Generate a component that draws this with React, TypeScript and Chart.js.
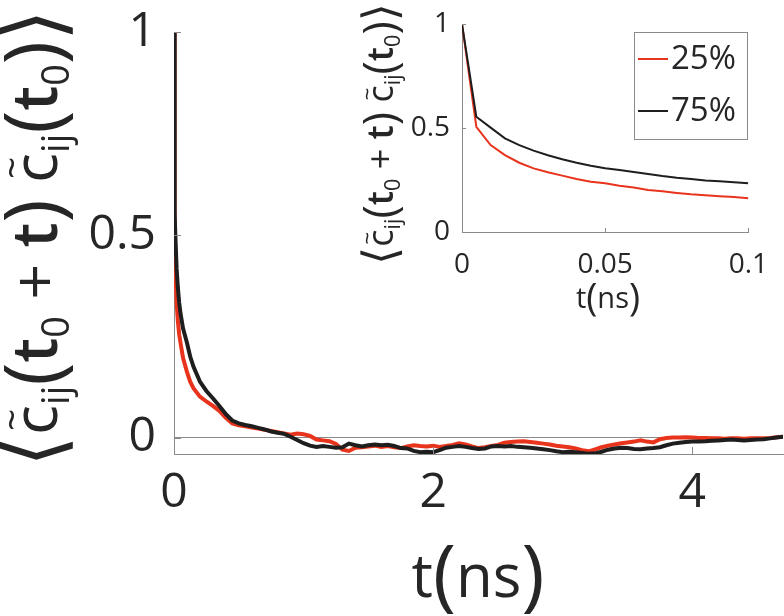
import React, { useEffect, useRef } from "react";
import { Chart, registerables } from "chart.js";
Chart.register(...registerables);

const FONT = '"Open Sans", "DejaVu Sans", sans-serif';
const RED = "#e8341c";
const BLACK = "#1e1e1e";
const AXIS = "#8a8a8a";
const TEXT = "#262626";

const seriesLabels = ["25%", "75%"];

const mainT = [0, 0.005, 0.01, 0.02, 0.03, 0.04, 0.05, 0.07, 0.1, 0.125, 0.15, 0.2, 0.25, 0.3, 0.35, 0.4, 0.45, 0.5, 0.55, 0.6, 0.65, 0.7, 0.75, 0.8, 0.85, 0.9, 0.95, 1, 1.05,
  1.1, 1.15, 1.2, 1.25, 1.3, 1.35, 1.4, 1.45, 1.5, 1.55, 1.6, 1.65, 1.7, 1.75, 1.8, 1.85, 1.9, 1.95, 2, 2.05,
  2.1, 2.15, 2.2, 2.25, 2.3, 2.35, 2.4, 2.45, 2.5, 2.55, 2.6, 2.65, 2.7, 2.75, 2.8, 2.85, 2.9, 2.95, 3, 3.05,
  3.1, 3.15, 3.2, 3.25, 3.3, 3.35, 3.4, 3.45, 3.5, 3.55, 3.6, 3.65, 3.7, 3.75, 3.8, 3.85, 3.9, 3.95, 4, 4.05,
  4.1, 4.15, 4.2, 4.25, 4.3, 4.35, 4.4, 4.45, 4.5, 4.55, 4.6, 4.65, 4.7];

const mainRed = [1, 0.506, 0.418, 0.333, 0.287, 0.255, 0.234, 0.196, 0.162, 0.138, 0.122, 0.101, 0.089, 0.078, 0.066, 0.049, 0.035, 0.03, 0.028, 0.025, 0.022, 0.019, 0.016, 0.013, 0.01, 0.007, 0.01, 0.008, 0.004,
  -0.005, -0.007, -0.009, -0.016, -0.03, -0.033, -0.025, -0.024, -0.022, -0.02,
  -0.023, -0.021, -0.024, -0.026, -0.022, -0.019, -0.021, -0.022, -0.02, -0.023,
  -0.021, -0.018, -0.014, -0.017, -0.022, -0.026, -0.024, -0.021, -0.018, -0.013,
  -0.011, -0.01, -0.009, -0.011, -0.013, -0.015, -0.017, -0.02, -0.022, -0.024,
  -0.027, -0.031, -0.034, -0.029, -0.024, -0.02, -0.017, -0.014, -0.012, -0.01,
  -0.007, -0.01, -0.012, -0.004, -0.001, 0, 0, 0.001, 0, -0.001,
  -0.001, -0.002, -0.002, -0.003, -0.002, -0.002, -0.003, -0.002, -0.002, -0.002,
  -0.001, 0.001, 0.002];

const mainBlack = [1, 0.554, 0.502, 0.418, 0.369, 0.333, 0.307, 0.269, 0.234, 0.2, 0.175, 0.138, 0.115, 0.097, 0.078, 0.058, 0.042, 0.035, 0.031, 0.028, 0.024, 0.02, 0.015, 0.012, 0.009, 0.002, -0.006, -0.014, -0.02,
  -0.023, -0.021, -0.023, -0.025, -0.024, -0.015, -0.019, -0.022, -0.019, -0.017,
  -0.019, -0.018, -0.021, -0.026, -0.027, -0.033, -0.036, -0.035, -0.036, -0.031,
  -0.025, -0.023, -0.021, -0.023, -0.026, -0.028, -0.027, -0.022, -0.021, -0.022,
  -0.021, -0.023, -0.024, -0.025, -0.027, -0.029, -0.031, -0.034, -0.036, -0.035,
  -0.036, -0.038, -0.04, -0.039, -0.035, -0.03, -0.027, -0.025, -0.026, -0.028,
  -0.029, -0.027, -0.026, -0.024, -0.019, -0.015, -0.013, -0.011, -0.01, -0.0095,
  -0.009, -0.008, -0.007, -0.006, -0.005, -0.006, -0.007, -0.006, -0.005, -0.004,
  -0.002, 0, 0.002];

const insetT = [0, 0.005, 0.01, 0.015, 0.02, 0.025, 0.03, 0.035, 0.04, 0.045, 0.05, 0.055, 0.06, 0.065, 0.07, 0.075, 0.08, 0.085, 0.09, 0.095, 0.1];
const insetRed = [1, 0.506, 0.418, 0.37, 0.333, 0.306, 0.287, 0.271, 0.255, 0.242, 0.234, 0.222, 0.214, 0.202, 0.196, 0.188, 0.181, 0.177, 0.172, 0.168, 0.162];
const insetBlack = [1, 0.554, 0.502, 0.45, 0.418, 0.391, 0.369, 0.35, 0.333, 0.319, 0.307, 0.298, 0.288, 0.279, 0.269, 0.261, 0.255, 0.248, 0.244, 0.239, 0.234];

const mainXTicks = [0, 2, 4];
const mainYTicks = [0, 0.5, 1];
const insetXTicks = [0, 0.05, 0.1];
const insetYTicks = [0, 0.5, 1];

type Seg = { s: string; sub?: boolean; tilde?: boolean; bold?: boolean; k?: number };

function drawMath(ctx: CanvasRenderingContext2D, segs: Seg[], cx: number, cy: number, size: number, rotate: boolean, target?: number) {
  const fontFor = (g: Seg, sz: number) => `${g.bold ? "600 " : ""}${(g.sub ? 0.6 : g.k || 1) * sz}px ${FONT}`;
  const measure = (sz: number) => segs.map((g) => { ctx.font = fontFor(g, sz); return ctx.measureText(g.s).width; });
  let widths = measure(size);
  let total = widths.reduce((a, b) => a + b, 0);
  if (target) {
    size = size * target / total;
    widths = measure(size);
    total = widths.reduce((a, b) => a + b, 0);
  }
  ctx.save();
  ctx.translate(cx, cy);
  if (rotate) ctx.rotate(-Math.PI / 2);
  ctx.fillStyle = TEXT;
  ctx.textAlign = "left";
  ctx.textBaseline = "alphabetic";
  const base = size * 0.36;
  let x = -total / 2;
  segs.forEach((g, i) => {
    ctx.font = fontFor(g, size);
    const y = g.sub ? base + size * 0.2 : base + ((g.k || 1) - 1) * size * 0.3;
    ctx.fillText(g.s, x, y);
    if (g.tilde) {
      ctx.font = `${size * 0.62}px ${FONT}`;
      ctx.textAlign = "center";
      ctx.fillText("~", x + widths[i] / 2, base - size * 0.5);
      ctx.textAlign = "left";
    }
    x += widths[i];
  });
  ctx.restore();
}

const yTitleSegs: Seg[] = [
  { s: "⟨", k: 1.3 }, { s: "c", tilde: true }, { s: "ij", sub: true }, { s: "(", k: 1.25 }, { s: "t", bold: true }, { s: "0", sub: true },
  { s: " + " }, { s: "t", bold: true }, { s: ")", k: 1.25 }, { s: " " }, { s: "c", tilde: true }, { s: "ij", sub: true }, { s: "(", k: 1.25 },
  { s: "t", bold: true }, { s: "0", sub: true }, { s: ")", k: 1.25 }, { s: "⟩", k: 1.3 },
];
const xTitleSegs: Seg[] = [{ s: "t" }, { s: "(", k: 1.3 }, { s: "ns" }, { s: ")", k: 1.3 }];

function inwardTicks(len: number) {
  return {
    id: "inwardTicks" + len,
    afterDatasetsDraw(chart: any) {
      const { ctx, chartArea, scales } = chart;
      ctx.save();
      ctx.strokeStyle = AXIS;
      ctx.lineWidth = 1;
      scales.x.ticks.forEach((t: any) => {
        const px = Math.round(scales.x.getPixelForValue(t.value)) + 0.5;
        ctx.beginPath(); ctx.moveTo(px, chartArea.bottom); ctx.lineTo(px, chartArea.bottom - len); ctx.stroke();
      });
      scales.y.ticks.forEach((t: any) => {
        const py = Math.round(scales.y.getPixelForValue(t.value)) + 0.5;
        ctx.beginPath(); ctx.moveTo(chartArea.left, py); ctx.lineTo(chartArea.left + len, py); ctx.stroke();
      });
      ctx.restore();
    },
  };
}

const mainTitles = {
  id: "mainTitles",
  afterDraw(chart: any) {
    const ctx = chart.ctx;
    drawMath(ctx, yTitleSegs, 34, 238, 50, true, 458);
    drawMath(ctx, xTitleSegs, 478, 575, 60, false);
  },
};

const insetDecor = {
  id: "insetDecor",
  afterDraw(chart: any) {
    const ctx = chart.ctx;
    drawMath(ctx, yTitleSegs, 40, 134, 30, true, 262);
    drawMath(ctx, xTitleSegs, 268, 298, 29, false);
    const bx = 294, by = 32, bw = 113, bh = 107;
    ctx.save();
    ctx.fillStyle = "#ffffff";
    ctx.fillRect(bx, by, bw, bh);
    ctx.strokeStyle = AXIS;
    ctx.lineWidth = 1;
    ctx.strokeRect(bx + 0.5, by + 0.5, bw, bh);
    chart.data.datasets.forEach((ds: any, i: number) => {
      const y = by + 27 + i * 52;
      ctx.strokeStyle = ds.borderColor;
      ctx.lineWidth = 2;
      ctx.beginPath(); ctx.moveTo(bx + 4, y); ctx.lineTo(bx + 34, y); ctx.stroke();
      ctx.fillStyle = TEXT;
      ctx.font = `33px ${FONT}`;
      ctx.textBaseline = "middle";
      ctx.textAlign = "left";
      ctx.fillText(ds.label, bx + 37, y + 1);
    });
    ctx.restore();
  },
};

function axisCfg(opts: any) {
  return {
    type: "linear",
    min: opts.min,
    max: opts.max,
    afterBuildTicks: (s: any) => { s.ticks = opts.ticks.map((v: number) => ({ value: v })); },
    afterFit: opts.afterFit,
    ticks: {
      font: { family: FONT, size: opts.fontSize, lineHeight: opts.lineHeight || 1.2 },
      color: TEXT,
      padding: opts.padding,
      autoSkip: false,
      maxRotation: 0,
      callback: (v: number) => String(v),
    },
    grid: {
      drawTicks: false,
      color: opts.gridColor || "rgba(0,0,0,0)",
      lineWidth: 1,
    },
    border: { display: true, color: AXIS, width: 1 },
  };
}

export default function App() {
  const mainRef = useRef<HTMLCanvasElement>(null);
  const insetRef = useRef<HTMLCanvasElement>(null);

  useEffect(() => {
    document.body.style.margin = "0";
    const main = new Chart(mainRef.current as HTMLCanvasElement, {
      type: "line",
      data: {
        datasets: [
          { label: seriesLabels[0], data: mainT.map((t, i) => ({ x: t, y: mainRed[i] })), borderColor: RED, borderWidth: 4, pointRadius: 0, tension: 0, order: 1 },
          { label: seriesLabels[1], data: mainT.map((t, i) => ({ x: t, y: mainBlack[i] })), borderColor: BLACK, borderWidth: 4, pointRadius: 0, tension: 0, order: 0 },
        ],
      },
      options: {
        animation: false,
        responsive: false,
        devicePixelRatio: 1,
        layout: { padding: { top: 18, right: 1, left: 0, bottom: 0 } },
        plugins: { legend: { display: false }, tooltip: { enabled: false } },
        scales: {
          x: axisCfg({ min: 0, max: 4.7, ticks: mainXTicks, fontSize: 48, padding: 11, afterFit: (s: any) => { s.height = 162; } }),
          y: axisCfg({
            min: -0.0406, max: 1, ticks: mainYTicks, fontSize: 48, padding: 18, lineHeight: 0.6,
            afterFit: (s: any) => { s.width = 174; },
            gridColor: (c: any) => (c.tick && c.tick.value === 0 ? AXIS : "rgba(0,0,0,0)"),
          }),
        },
      } as any,
      plugins: [inwardTicks(7), mainTitles],
    });

    const inset = new Chart(insetRef.current as HTMLCanvasElement, {
      type: "line",
      data: {
        datasets: [
          { label: seriesLabels[0], data: insetT.map((t, i) => ({ x: t, y: insetRed[i] })), borderColor: RED, borderWidth: 2, pointRadius: 0, tension: 0, order: 1 },
          { label: seriesLabels[1], data: insetT.map((t, i) => ({ x: t, y: insetBlack[i] })), borderColor: BLACK, borderWidth: 2, pointRadius: 0, tension: 0, order: 0 },
        ],
      },
      options: {
        animation: false,
        responsive: false,
        devicePixelRatio: 1,
        layout: { padding: { top: 24, right: 30, left: 0, bottom: 0 } },
        plugins: { legend: { display: false }, tooltip: { enabled: false } },
        scales: {
          x: axisCfg({ min: 0, max: 0.1, ticks: insetXTicks, fontSize: 28, padding: 16, afterFit: (s: any) => { s.height = 98; } }),
          y: axisCfg({ min: 0, max: 1, ticks: insetYTicks, fontSize: 28, padding: 12, lineHeight: 0.6, afterFit: (s: any) => { s.width = 122; } }),
        },
      } as any,
      plugins: [inwardTicks(4), insetDecor],
    });

    return () => {
      main.destroy();
      inset.destroy();
    };
  }, []);

  return (
    <div style={{ position: "relative", width: 784, height: 616, background: "#fff" }}>
      <canvas ref={mainRef} width={784} height={616} style={{ position: "absolute", left: 0, top: 0 }} />
      <canvas ref={insetRef} width={444} height={330} style={{ position: "absolute", left: 340, top: 0 }} />
    </div>
  );
}
